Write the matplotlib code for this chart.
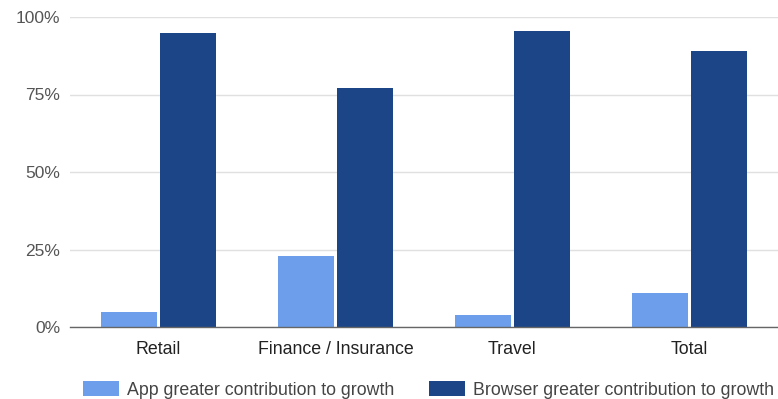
import matplotlib
matplotlib.use("Agg")
import matplotlib.pyplot as plt
import numpy as np

categories = ["Retail", "Finance / Insurance", "Travel", "Total"]
app_share = [5, 23, 4, 11]
browser_share = [95, 77, 95.5, 89]
series_names = ["App greater contribution to growth",
                "Browser greater contribution to growth"]
y_ticks = [0, 25, 50, 75, 100]
y_tick_labels = ["0%", "25%", "50%", "75%", "100%"]

APP_COLOR = "#6d9eeb"
BROWSER_COLOR = "#1c4587"
TEXT_COLOR = "#444444"

plt.rcParams["font.family"] = ["Liberation Sans", "DejaVu Sans"]

W, H = 778, 399
fig = plt.figure(figsize=(W / 100, H / 100), dpi=100)
ax = fig.add_axes([70 / W, 1 - 327 / H, 708 / W, 310 / H])

x = np.arange(len(categories))
bw = 0.32
gap = 0.006
b1 = ax.bar(x - bw / 2 - gap, app_share, width=bw, color=APP_COLOR,
            label=series_names[0], zorder=3)
b2 = ax.bar(x + bw / 2 + gap, browser_share, width=bw, color=BROWSER_COLOR,
            label=series_names[1], zorder=3)

ax.set_xlim(-0.5, len(categories) - 0.5)
ax.set_ylim(0, 100)
ax.set_yticks(y_ticks)
ax.set_yticklabels(y_tick_labels)
ax.set_xticks(x)
ax.set_xticklabels(categories)

ax.grid(axis="y", color="#e0e0e0", linewidth=1, zorder=0)
for s in ["top", "right", "left"]:
    ax.spines[s].set_visible(False)
ax.spines["bottom"].set_color("#666666")
ax.spines["bottom"].set_linewidth(1)
ax.spines["bottom"].set_zorder(4)

ax.tick_params(axis="y", length=0, pad=7, labelsize=12.5, labelcolor="#555555")
ax.tick_params(axis="x", length=0, pad=10, labelsize=12.8, labelcolor="#222222")

fig.legend(handles=[b1, b2], labels=series_names, loc="center",
           bbox_to_anchor=(428.5 / W, 1 - 390 / H), ncol=2, frameon=False,
           fontsize=12.8, handlelength=2.0, handleheight=0.9,
           columnspacing=1.95, handletextpad=0.45, labelcolor=TEXT_COLOR)

fig.savefig("out.png", dpi=100)
